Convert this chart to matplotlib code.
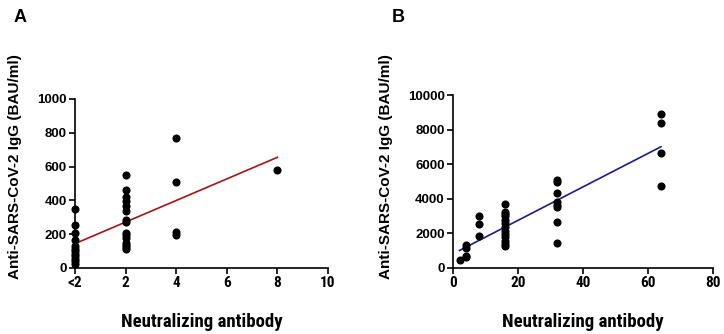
import numpy as np
import matplotlib
matplotlib.use("Agg")
import matplotlib.pyplot as plt
from matplotlib import font_manager

# ---------------- data ----------------
a_x = [0]*12 + [2]*15 + [4]*4 + [8]
a_y = [350, 255, 210, 165, 130, 115, 100, 85, 70, 55, 40, 25,
       548, 460, 420, 395, 365, 340, 285, 275, 210, 195, 180, 145, 135, 125, 115,
       768, 509, 212, 198,
       582]
a_xticks = [0, 2, 4, 6, 8, 10]
a_xticklabels = ["<2", "2", "4", "6", "8", "10"]
a_yticks = [0, 200, 400, 600, 800, 1000]

b_x = [2] + [4]*4 + [8]*3 + [16]*13 + [32]*8 + [64]*4
b_y = [442,
       1345, 1170, 710, 650,
       1865, 2538, 2981,
       3673, 3230, 3115, 2981, 2800, 2600, 2346, 2154, 1961, 1769, 1577, 1404, 1288,
       5096, 5000, 4327, 3807, 3654, 3500, 2635, 1442,
       8923, 8365, 6654, 4750]
b_xticks = [0, 20, 40, 60, 80]
b_yticks = [0, 2000, 4000, 6000, 8000, 10000]

ylabel = "Anti-SARS-CoV-2 IgG (BAU/ml)"
xlabel = "Neutralizing antibody"

# ---------------- fonts ----------------
ttf = font_manager.fontManager.ttflist
def has_bold(name):
    return any(f.name == name and (f.weight in ("bold", "semibold", "heavy", "black")
               or (isinstance(f.weight, int) and f.weight >= 600)) for f in ttf)

narrow = "Liberation Sans"
for cand in ["Liberation Sans Narrow", "Arial Narrow", "Roboto Condensed",
             "Archivo Narrow", "Barlow Semi Condensed", "Encode Sans Condensed",
             "Asap Condensed", "Barlow Condensed"]:
    if has_bold(cand):
        narrow = cand
        break
wide = "Liberation Sans"

W, H = 724, 334
fig = plt.figure(figsize=(W/100, H/100), dpi=100)

def axes_px(l, r, b, t):
    return fig.add_axes([l/W, 1 - b/H, (r-l)/W, (b-t)/H])

def style(ax, xlim, ylim, xticks, xtl, yticks, color, xs, ys, xline, lab_xy):
    ax.set_xlim(*xlim)
    ax.set_ylim(*ylim)
    for s in ["top", "right"]:
        ax.spines[s].set_visible(False)
    for s in ["left", "bottom"]:
        ax.spines[s].set_linewidth(1.2)
    ax.tick_params(width=1.2, length=4, direction="out", pad=2)
    ax.set_xticks(xticks)
    ax.set_xticklabels(xtl, fontfamily=narrow, fontweight="bold", fontsize=11)
    ax.set_yticks(yticks)
    ax.set_yticklabels([str(v) for v in yticks], fontfamily=wide, fontweight="bold", fontsize=9.5)
    ax.scatter(xs, ys, s=34, color="black", zorder=3, clip_on=False, linewidths=0)
    k, c = np.polyfit(xs, ys, 1)
    xl = np.array(xline)
    ax.plot(xl, k*xl + c, color=color, lw=1.2, zorder=2)
    ax.set_xlabel(xlabel, fontfamily=narrow, fontweight="bold", fontsize=13.5, labelpad=16)
    ax.set_ylabel(ylabel, fontfamily=wide, fontweight="bold", fontsize=11)
    ax.yaxis.set_label_coords(*lab_xy)

axA = axes_px(75, 328, 268, 99)
style(axA, (0, 10), (0, 1000), a_xticks, a_xticklabels, a_yticks, "#A31515",
      a_x, a_y, [0, 8], (-0.21, 0.60))
axB = axes_px(453, 713, 268, 95)
style(axB, (0, 80), (0, 10000), b_xticks, [str(v) for v in b_xticks], b_yticks, "#1B1B8A",
      b_x, b_y, [2, 64], (-0.23, 0.585))

fig.text(20/W, 1 - 18/H, "A", fontfamily=wide, fontweight="bold", fontsize=13, ha="center", va="center")
fig.text(398/W, 1 - 18/H, "B", fontfamily=wide, fontweight="bold", fontsize=13, ha="center", va="center")

fig.savefig("out.png", dpi=100)
